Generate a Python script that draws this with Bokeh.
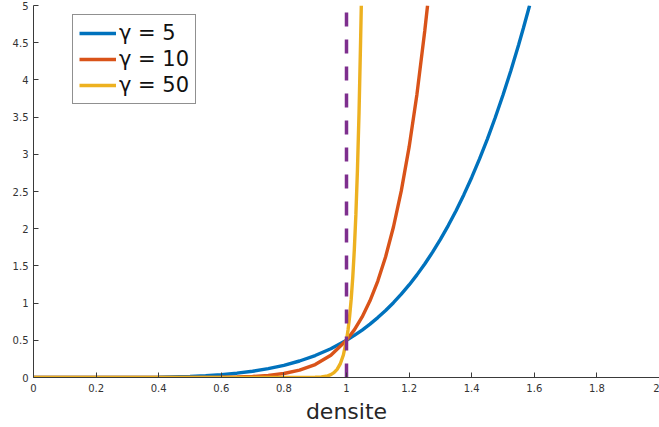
from bokeh.plotting import figure
from bokeh.models import Range1d, FixedTicker, Legend, LegendItem
from bokeh.embed import file_html
from bokeh.resources import INLINE

# --- data ---
x_g5 = [0, 0.1, 0.2, 0.3, 0.4, 0.5, 0.55, 0.6, 0.65, 0.7, 0.75, 0.8, 0.85, 0.9, 0.95,
        1.0, 1.025, 1.05, 1.075, 1.1, 1.125, 1.15, 1.175, 1.2, 1.225, 1.25, 1.275, 1.3,
        1.325, 1.35, 1.375, 1.4, 1.425, 1.45, 1.475, 1.5, 1.525, 1.55, 1.565, 1.585]
y_g5 = [0, 0.000005, 0.00016, 0.0012, 0.0051, 0.0156, 0.0252, 0.0389, 0.058, 0.084, 0.1187,
        0.164, 0.2219, 0.295, 0.3869, 0.5, 0.5657, 0.6381, 0.7178, 0.805, 0.901, 1.0057,
        1.1198, 1.244, 1.3793, 1.5259, 1.6847, 1.856, 2.0419, 2.242, 2.4575, 2.689, 2.938,
        3.2049, 3.4908, 3.797, 4.1241, 4.4733, 4.6942, 5.0]

x_g10 = [0, 0.4, 0.5, 0.6, 0.65, 0.7, 0.75, 0.8, 0.85, 0.9, 0.95, 1.0, 1.025, 1.05, 1.075,
         1.1, 1.125, 1.15, 1.175, 1.2, 1.225, 1.25, 1.259]
y_g10 = [0, 0.00005, 0.00049, 0.003, 0.0067, 0.0141, 0.0282, 0.0537, 0.0984, 0.1743, 0.2994,
         0.5, 0.64, 0.8144, 1.0305, 1.2969, 1.6237, 2.0228, 2.5082, 3.0959, 3.8049, 4.6566, 5.0]

x_g50 = [0, 0.8, 0.85, 0.9, 0.92, 0.94, 0.95, 0.96, 0.97, 0.98, 0.99, 1.0, 1.005, 1.01,
         1.015, 1.02, 1.025, 1.03, 1.035, 1.04, 1.045, 1.0473]
y_g50 = [0, 0.0, 0.00015, 0.0026, 0.0077, 0.0227, 0.0385, 0.0649, 0.109, 0.1821, 0.3025,
         0.5, 0.6416, 0.8223, 1.0526, 1.3458, 1.7186, 2.192, 2.7925, 3.5534, 4.5163, 5.0]

threshold_x = [1.0, 1.0]
threshold_y = [0, 5]

series_labels = ["\u03b3 = 5", "\u03b3 = 10", "\u03b3 = 50"]
series_colors = ["#0072BD", "#D95319", "#EDB120"]

x_ticks = [0, 0.2, 0.4, 0.6, 0.8, 1, 1.2, 1.4, 1.6, 1.8, 2]
x_tick_labels = ["0", "0.2", "0.4", "0.6", "0.8", "1", "1.2", "1.4", "1.6", "1.8", "2"]
y_ticks = [0, 0.5, 1, 1.5, 2, 2.5, 3, 3.5, 4, 4.5, 5]
y_tick_labels = ["0", "0.5", "1", "1.5", "2", "2.5", "3", "3.5", "4", "4.5", "5"]

FONT = "DejaVu Sans"
AX = "#3a3a3a"
TXT = "#333333"

p = figure(width=659, height=427, output_backend="svg", toolbar_location=None,
           x_range=Range1d(0, 2), y_range=Range1d(0, 5),
           min_border_left=33, min_border_right=0, min_border_top=5, min_border_bottom=50)
p.outline_line_color = None
p.xgrid.visible = False
p.ygrid.visible = False
p.background_fill_color = "white"
p.border_fill_color = "white"

r1 = p.line(x_g5, y_g5, line_color=series_colors[0], line_width=3.4)
r2 = p.line(x_g10, y_g10, line_color=series_colors[1], line_width=3.4)
r3 = p.line(x_g50, y_g50, line_color=series_colors[2], line_width=3.4)
p.line(threshold_x, threshold_y, line_color="#7E2F8E", line_width=3.5, line_dash="14 13")

for ax in (p.xaxis[0], p.yaxis[0]):
    ax.axis_line_color = AX
    ax.axis_line_width = 1
    ax.major_tick_line_color = AX
    ax.major_tick_in = 5
    ax.major_tick_out = 0
    ax.minor_tick_line_color = None
    ax.major_label_text_font = FONT
    ax.major_label_text_font_size = "10px"
    ax.major_label_text_color = TXT

p.xaxis.ticker = FixedTicker(ticks=x_ticks)
p.xaxis.major_label_overrides = {t: l for t, l in zip(x_ticks, x_tick_labels)}
p.yaxis.ticker = FixedTicker(ticks=y_ticks)
p.yaxis.major_label_overrides = {t: l for t, l in zip(y_ticks, y_tick_labels)}
p.xaxis.major_label_standoff = 6
p.yaxis.major_label_standoff = 5

p.xaxis.axis_label = "densite"
p.xaxis.axis_label_text_font = FONT
p.xaxis.axis_label_text_font_size = "22px"
p.xaxis.axis_label_text_font_style = "normal"
p.xaxis.axis_label_text_color = "#262626"
p.xaxis.axis_label_standoff = 4

legend = Legend(items=[LegendItem(label=series_labels[0], renderers=[r1]),
                       LegendItem(label=series_labels[1], renderers=[r2]),
                       LegendItem(label=series_labels[2], renderers=[r3])],
                location=(39, 273))
legend.label_text_font = FONT
legend.label_text_font_size = "21px"
legend.label_text_color = "#111111"
legend.glyph_width = 37
legend.glyph_height = 22
legend.label_height = 22
legend.label_standoff = 3
legend.padding = 6
legend.spacing = 2
legend.margin = 0
legend.border_line_color = "#222222"
legend.border_line_width = 1
legend.background_fill_color = "white"
legend.background_fill_alpha = 1
p.add_layout(legend, "center")

open("out.html", "w").write(file_html(p, INLINE))
